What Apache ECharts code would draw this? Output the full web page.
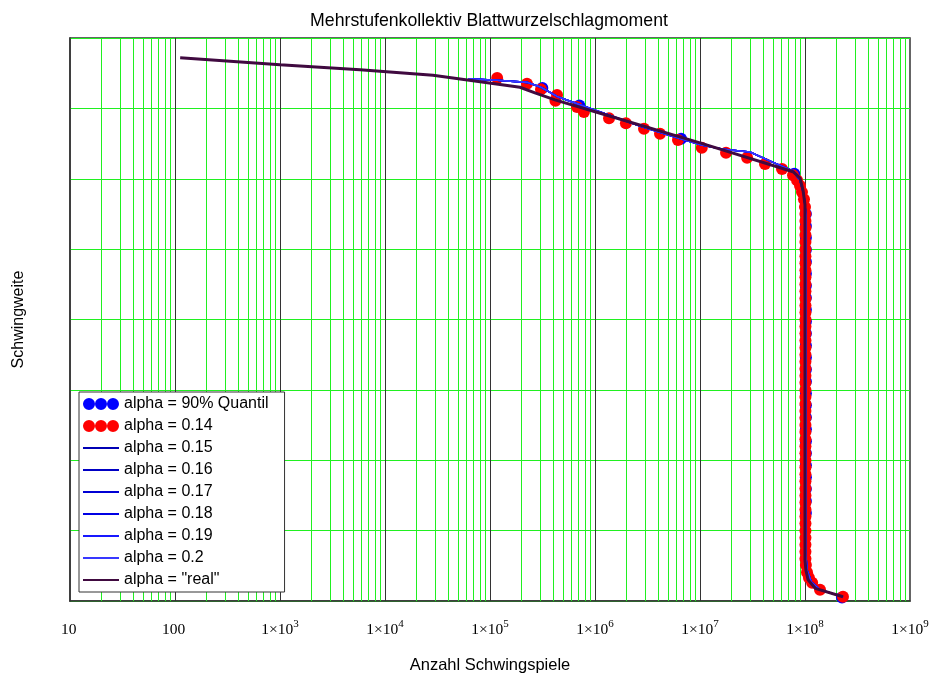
<!DOCTYPE html>
<html>
<head>
<meta charset="utf-8">
<script src="https://cdn.jsdelivr.net/npm/echarts@6/dist/echarts.min.js"></script>
<style>
  html, body { margin: 0; padding: 0; background: #fff; }
  #chart { width: 934px; height: 675px; }
</style>
</head>
<body>
<div id="chart"></div>
<script>
// x: Anzahl Schwingspiele (log), y: Schwingweite (no scale shown, 0..8)
const xTickLabels = ['10', '100', '1×10^3', '1×10^4', '1×10^5', '1×10^6', '1×10^7', '1×10^8', '1×10^9']

const realN = [112, 1000, 5780, 28650, 1.93e5, 2.68e5, 4.16e5, 1.12e6, 1.0e7, 7.69e7, 8.96e7, 9.57e7, 1.0e8, 1.0e8, 1.02e8, 1.07e8, 1.25e8, 2.3e8]
const realY = [7.72, 7.62, 7.55, 7.47, 7.30, 7.22, 7.12, 6.93, 6.51, 6.10, 6.01, 5.84, 5.63, 0.58, 0.44, 0.30, 0.18, 0.06]

const blueN = [6.17e4, 1.17e5, 2.25e5, 3.06e5, 4.35e5, 7.19e5, 1.12e6, 2.68e6, 6.17e6, 1.04e7, 1.66e7, 2.99e7, 4.85e7, 7.69e7, 8.96e7, 9.78e7, 1.02e8, 1.02e8, 1.045e8, 1.15e8, 1.39e8, 2.3e8]
const blueY = [7.42, 7.40, 7.37, 7.30, 7.17, 7.05, 6.95, 6.75, 6.58, 6.48, 6.42, 6.38, 6.24, 6.11, 5.98, 5.77, 5.48, 0.65, 0.44, 0.27, 0.16, 0.06]

// 90% quantile dots, mostly hidden under the red ones
const quantN = [3.15e5, 7.1e5, 6.6e6, 7.9e7, 1.02e8, 1.02e8, 1.02e8, 1.02e8, 1.02e8, 1.02e8, 1.02e8, 1.02e8, 1.02e8, 1.02e8, 1.02e8, 1.02e8,
  1.02e8, 1.02e8, 1.02e8, 1.02e8, 1.02e8, 1.02e8, 1.02e8, 1.02e8, 1.02e8, 1.02e8, 1.02e8, 1.02e8, 1.02e8, 1.02e8, 2.25e8]
const quantY = [7.29, 7.04, 6.57, 6.07, 5.50, 5.33, 5.16, 4.99, 4.82, 4.65, 4.48, 4.31, 4.14, 3.97, 3.80, 3.63,
  3.46, 3.29, 3.12, 2.95, 2.78, 2.61, 2.44, 2.27, 2.10, 1.93, 1.76, 1.59, 1.42, 1.25, 0.05]

const redN = [1.17e5, 2.25e5, 3.06e5, 4.35e5, 4.2e5, 6.74e5, 7.85e5, 1.36e6, 1.97e6, 2.93e6, 4.16e6, 6.17e6, 1.04e7, 1.77e7, 2.81e7, 4.16e7, 6.04e7, 7.69e7, 8.4e7, 8.96e7, 9.36e7, 9.78e7,
  1.0e8, 1.01e8, 1.01e8, 1.01e8, 1.01e8, 1.01e8, 1.01e8, 1.01e8, 1.01e8, 1.01e8, 1.01e8, 1.01e8, 1.01e8, 1.01e8, 1.01e8, 1.01e8, 1.01e8,
  1.01e8, 1.01e8, 1.01e8, 1.01e8, 1.01e8, 1.01e8, 1.01e8, 1.01e8, 1.01e8, 1.01e8, 1.01e8, 1.01e8, 1.01e8, 1.01e8, 1.01e8, 1.01e8, 1.01e8,
  1.01e8, 1.01e8, 1.01e8, 1.01e8, 1.01e8, 1.01e8, 1.01e8, 1.01e8, 1.01e8, 1.01e8, 1.01e8, 1.01e8, 1.01e8, 1.01e8, 1.01e8, 1.01e8, 1.01e8,
  1.02e8, 1.045e8, 1.09e8, 1.17e8, 1.39e8, 2.3e8]
const redY = [7.43, 7.35, 7.27, 7.19, 7.11, 7.02, 6.95, 6.86, 6.79, 6.71, 6.64, 6.55, 6.44, 6.37, 6.30, 6.21, 6.14, 6.05, 5.98, 5.90, 5.81, 5.71,
  5.60, 5.50, 5.40, 5.30, 5.20, 5.10, 5.00, 4.90, 4.80, 4.70, 4.60, 4.50, 4.40, 4.30, 4.20, 4.10, 4.00,
  3.90, 3.80, 3.70, 3.60, 3.50, 3.40, 3.30, 3.20, 3.10, 3.00, 2.90, 2.80, 2.70, 2.60, 2.50, 2.40, 2.30,
  2.20, 2.10, 2.00, 1.90, 1.80, 1.70, 1.60, 1.50, 1.40, 1.30, 1.20, 1.10, 1.00, 0.90, 0.80, 0.70, 0.60,
  0.51, 0.41, 0.33, 0.26, 0.16, 0.06]

const alphaNames = ['alpha = 0.15', 'alpha = 0.16', 'alpha = 0.17', 'alpha = 0.18', 'alpha = 0.19', 'alpha = 0.2']
const alphaColors = ['#0000b4', '#0000c4', '#0000d4', '#0000e4', '#1818ff', '#3838ff']

const pairs = (xs, ys) => xs.map((x, i) => [x, ys[i]])

const threeDots = 'path://M0,6a6,6 0 1,0 12,0a6,6 0 1,0 -12,0zM12,6a6,6 0 1,0 12,0a6,6 0 1,0 -12,0zM24,6a6,6 0 1,0 12,0a6,6 0 1,0 -12,0z'

const gridGreen = '#20f020'

// vertical grid: decade lines dark, 2..9 lines green
const vLines = []
for (let e = 1; e < 9; e++) {
  for (let k = 2; k <= 9; k++) {
    vLines.push({xAxis: k * Math.pow(10, e), lineStyle: {color: gridGreen, width: 1, type: 'solid'}})
  }
}
for (let e = 2; e < 9; e++) {
  vLines.push({xAxis: Math.pow(10, e), lineStyle: {color: '#333', width: 1, type: 'solid'}})
}

const sans = '"Liberation Sans", Arial, sans-serif'
const serif = '"Liberation Serif", "Times New Roman", serif'

const chart = echarts.init(document.getElementById('chart'))

chart.setOption({
  backgroundColor: '#fff',
  animation: false,
  title: {
    text: 'Mehrstufenkollektiv Blattwurzelschlagmoment',
    left: 484,
    textAlign: 'center',
    top: 7,
    textStyle: {fontFamily: sans, fontSize: 17.7, fontWeight: 'normal', color: '#000'}
  },
  grid: {
    left: 70, right: 24, top: 38, bottom: 74,
    outerBoundsMode: 'none', containLabel: false,
    show: true, borderColor: '#333', borderWidth: 1.5, backgroundColor: 'transparent'
  },
  legend: {
    orient: 'vertical',
    left: 79,
    top: 392,
    padding: [4, 16, 4, 3],
    itemWidth: 36,
    itemHeight: 12,
    itemGap: 6,
    backgroundColor: '#fff',
    borderColor: '#333',
    borderWidth: 1,
    z: 10,
    textStyle: {fontFamily: sans, fontSize: 16, color: '#000', lineHeight: 16},
    data: [
      {name: 'alpha = 90% Quantil', icon: threeDots},
      {name: 'alpha = 0.14', icon: threeDots},
      ...alphaNames.map(n => ({name: n, itemStyle: {opacity: 0}})),
      {name: 'alpha = "real"', itemStyle: {opacity: 0}}
    ]
  },
  xAxis: {
    type: 'log',
    logBase: 10,
    min: 10,
    max: 1e9,
    splitNumber: 8,
    name: 'Anzahl Schwingspiele',
    nameLocation: 'middle',
    nameGap: 56,
    nameTextStyle: {fontFamily: sans, fontSize: 16.5, color: '#000'},
    axisLine: {show: true, onZero: false, lineStyle: {color: '#333', width: 1.5}},
    axisTick: {show: false},
    splitLine: {show: false},
    axisLabel: {
      margin: 18,
      formatter: (v) => {
        const s = xTickLabels[Math.round(Math.log10(v)) - 1] || ''
        const p = s.split('^')
        return p.length > 1 ? `{m|${p[0]}}{e|${p[1]}}` : `{m|${s}}{e| }`
      },
      rich: {
        m: {fontFamily: serif, fontSize: 15.5, color: '#000'},
        e: {fontFamily: serif, fontSize: 11, color: '#000', padding: [0, 0, 11, 0]}
      }
    }
  },
  yAxis: {
    type: 'value',
    min: 0,
    max: 8,
    interval: 1,
    name: 'Schwingweite',
    nameLocation: 'middle',
    nameGap: 43,
    nameTextStyle: {fontFamily: sans, fontSize: 16, color: '#000'},
    axisLine: {show: true, lineStyle: {color: '#333', width: 1.5}},
    axisTick: {show: false},
    axisLabel: {show: false},
    splitLine: {show: true, lineStyle: {color: gridGreen, width: 1, type: 'solid'}}
  },
  series: [
    {
      name: 'grid lines',
      type: 'line',
      data: [],
      silent: true,
      z: 1,
      markLine: {
        silent: true,
        z: 1,
        symbol: ['none', 'none'],
        label: {show: false},
        emphasis: {disabled: true},
        animation: false,
        data: vLines
      }
    },
    {
      name: 'alpha = 90% Quantil',
      type: 'scatter',
      data: pairs(quantN, quantY),
      symbolSize: 12,
      itemStyle: {color: '#0000ff', opacity: 1},
      z: 3
    },
    {
      name: 'alpha = 0.14',
      type: 'scatter',
      data: pairs(redN, redY),
      symbolSize: 12,
      itemStyle: {color: '#ff0000', opacity: 1},
      z: 4
    },
    ...alphaNames.map((n, i) => ({
      name: n,
      type: 'line',
      data: pairs(blueN, blueY),
      symbol: 'none',
      lineStyle: {color: alphaColors[i], width: 1.6},
      itemStyle: {color: alphaColors[i]},
      z: 5
    })),
    {
      name: 'alpha = "real"',
      type: 'line',
      data: pairs(realN, realY),
      symbol: 'none',
      lineStyle: {color: '#400a40', width: 3},
      itemStyle: {color: '#400a40'},
      z: 6
    }
  ]
})
</script>
</body>
</html>
